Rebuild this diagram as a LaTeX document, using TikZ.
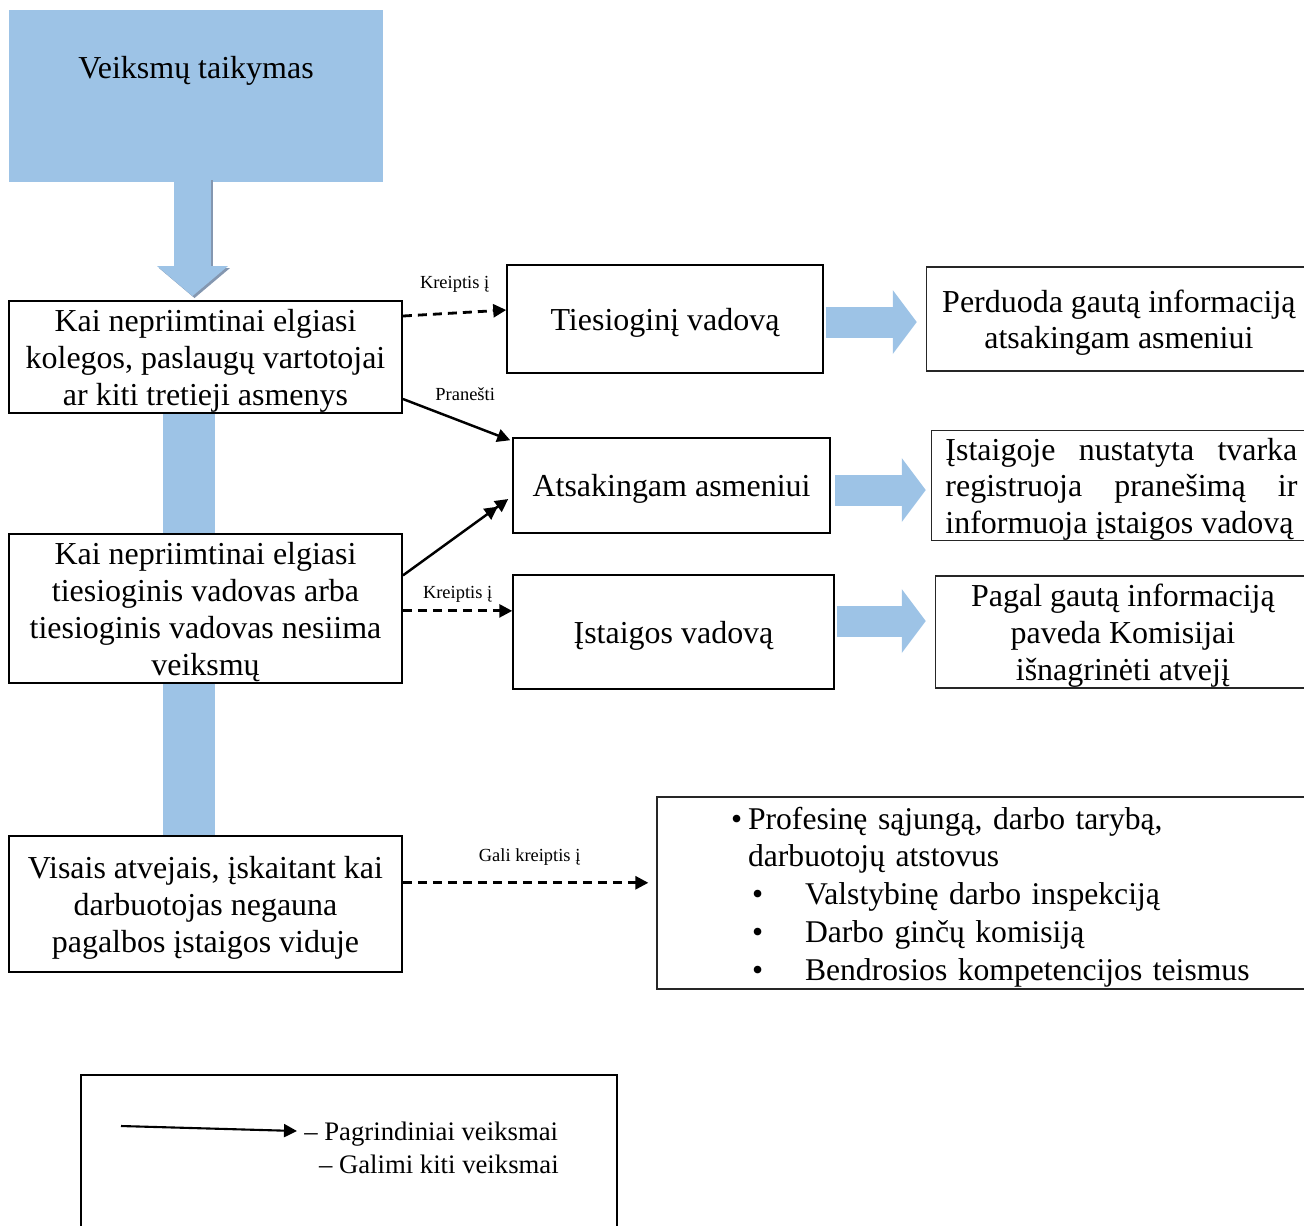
\documentclass[tikz,border=0pt]{standalone}
\usepackage{fontspec}
\setmainfont{Liberation Serif}
\usetikzlibrary{arrows.meta, positioning}

\definecolor{boxblue}{HTML}{9DC3E6}
\definecolor{shadowblue}{HTML}{8497B0}
\newcommand{\lift}{\rule{0pt}{17pt}}

\begin{document}
\begin{tikzpicture}[x=0.02cm, y=-0.02cm,
            font=\fontsize{18.2}{21}\selectfont,
            lowered/.style={execute at begin node={\lift}},
            leftbox/.style={draw,line width=1.1pt,inner sep=0pt,align=center,minimum width=7.86cm},
            midbox/.style={draw,line width=0.9pt,inner sep=0pt,align=center,lowered},
            infobox/.style={draw=black!85,line width=0.8pt,inner sep=0pt,align=center,lowered},
            lbl/.style={font=\fontsize{10.5}{12}\selectfont,inner sep=1pt},
            legtext/.style={font=\fontsize{15.2}{17}\selectfont,inner sep=0pt},
            main/.style={line width=1.4pt,-{Triangle[length=0.26cm,width=0.26cm]}},
            maybe/.style={main,line width=1.6pt,dash pattern=on 0.18cm off 0.12cm},
            twohead/.style={line width=1.4pt,-{Triangle[length=0.26cm,width=0.26cm]Triangle[length=0.26cm,width=0.26cm]}},
            blockarrow/.style={draw=boxblue,line width=0.62cm,-{Triangle[length=0.48cm,width=1.28cm,line width=0pt]}},
            bar/.style={draw=boxblue,line width=1.04cm}]

            \useasboundingbox (0,0) rectangle (1304,1225);

            % Top block
            \node[fill=boxblue,minimum width=7.48cm,minimum height=3.44cm] (top) at (196,96) {};
            \node[lowered] (toptitle) at (196,67) {Veiksmų taikymas};

            % Left column
            \node[leftbox,minimum height=2.24cm] (kolegos) at (205.5,357) {\lift Kai nepriimtinai elgiasi\\kolegos, paslaugų vartotojai\\ar kiti tretieji asmenys};
            \node[leftbox,minimum height=2.98cm,below=2.38cm of kolegos] (vadovas) {\lift Kai nepriimtinai elgiasi\\tiesioginis vadovas arba\\tiesioginis vadovas nesiima\\veiksmų};
            \node[leftbox,minimum height=2.72cm,below=3.02cm of vadovas] (visais) {\lift Visais atvejais, įskaitant kai\\darbuotojas negauna\\pagalbos įstaigos viduje};

            % Blue block arrow and bars
            \draw[blockarrow,draw=shadowblue,line width=0.74cm,-{Triangle[length=0.6cm,width=1.42cm,line width=0pt]}]
                ([xshift=-0.03cm,yshift=0.04cm]top.south) -- ([xshift=-0.03cm,yshift=0.04cm]top.south |- kolegos.north);
            \draw[blockarrow,line width=0.74cm,-{Triangle[length=0.6cm,width=1.42cm,line width=0pt]}]
                ([xshift=-0.07cm,yshift=0.08cm]top.south) -- ([xshift=-0.07cm,yshift=0.08cm]top.south |- kolegos.north);
            \draw[bar] ([xshift=-0.34cm]kolegos.south) -- ([xshift=-0.34cm]vadovas.north);
            \draw[bar] ([xshift=-0.34cm]vadovas.south) -- ([xshift=-0.34cm]visais.north);

            % Middle column
            \node[midbox,minimum width=6.32cm,minimum height=2.16cm] (tiesiog) at (665,319) {Tiesioginį vadovą};
            \node[midbox,minimum width=6.34cm,minimum height=1.9cm] (atsak) at (671.5,485.5) {Atsakingam asmeniui};
            \node[midbox,minimum width=6.42cm,minimum height=2.28cm] (istaig) at (673.5,632) {Įstaigos vadovą};

            % Right column
            \node[infobox,minimum width=7.7cm,minimum height=2.08cm,right=2.04cm of tiesiog] (perduoda) {\lift Perduoda gautą informaciją\\atsakingam asmeniui};
            \node[infobox,text width=7.04cm,inner xsep=0.28cm,align=justify,minimum height=2.2cm,right=2cm of atsak] (tvarka) {Įstaigoje nustatyta tvarka\linebreak registruoja pranešimą ir\linebreak informuoja įstaigos vadovą};
            \node[infobox,minimum width=7.5cm,minimum height=2.24cm,right=2cm of istaig] (pagal) {\lift Pagal gautą informaciją\\paveda Komisijai\\išnagrinėti atvejį};

            \draw[blockarrow] ([xshift=0.04cm,yshift=-0.06cm]tiesiog.east) -- ([xshift=-0.18cm,yshift=-0.06cm]tiesiog.east -| perduoda.west);
            \draw[blockarrow] ([xshift=0.08cm,yshift=-0.09cm]atsak.east) -- ([xshift=-0.1cm,yshift=-0.09cm]atsak.east -| tvarka.west);
            \draw[blockarrow] ([xshift=0.04cm,yshift=0.22cm]istaig.east) -- ([xshift=-0.18cm,yshift=0.22cm]istaig.east -| pagal.west);

            % Other institutions
            \node[infobox,text width=13.06cm,minimum height=3.84cm,align=left,font=\fontsize{18}{21.5}\selectfont] (kitur) at (983.5,893) {%
                \hspace*{1.48cm}\makebox[0.34cm][l]{•}Profesinę sąjungą, darbo tarybą,\\
                \hspace*{1.82cm}darbuotojų atstovus\\
                \hspace*{1.9cm}\makebox[1.06cm][l]{•}Valstybinę darbo inspekciją\\
                \hspace*{1.9cm}\makebox[1.06cm][l]{•}Darbo ginčų komisiją\\
                \hspace*{1.9cm}\makebox[1.06cm][l]{•}Bendrosios kompetencijos teismus};

            % Connectors
            \draw[maybe] ([yshift=0.82cm]kolegos.east) -- ([yshift=0.18cm]tiesiog.west)
                node[lbl,midway,above=10pt] (kreipt1) {Kreiptis į};
            \draw[main] ([yshift=-0.84cm]kolegos.east) -- ([xshift=-0.04cm,yshift=-0.06cm]atsak.north west)
                node[lbl,pos=0.58,above=11pt] (pranesti) {Pranešti};
            \draw[twohead] ([yshift=0.66cm]vadovas.east) -- ([xshift=-0.08cm,yshift=-0.27cm]atsak.west);
            \draw[maybe] ([yshift=-0.05cm]vadovas.east) -- ([yshift=-0.05cm]vadovas.east -| istaig.west)
                node[lbl,midway,above=3pt] (kreipt2) {Kreiptis į};
            \draw[maybe,shorten >=0.16cm] ([yshift=0.42cm]visais.east) -- ([yshift=0.42cm]visais.east -| kitur.west)
                node[lbl,midway,above=8pt] (galikr) {Gali kreiptis į};

            % Legend
            \draw[line width=0.9pt] (81,1232) |- (617,1075) -- (617,1232);
            \coordinate (legstart) at (121,1126);
            \coordinate (legtip) at (297,1131);
            \draw[main,line width=1.2pt] (legstart) -- (legtip);
            \node[legtext,anchor=west] (legmain) at (304,1134) {– Pagrindiniai veiksmai};
            \node[legtext,anchor=east] (legother) at (559,1164) {– Galimi kiti veiksmai};
\end{tikzpicture}
\end{document}
